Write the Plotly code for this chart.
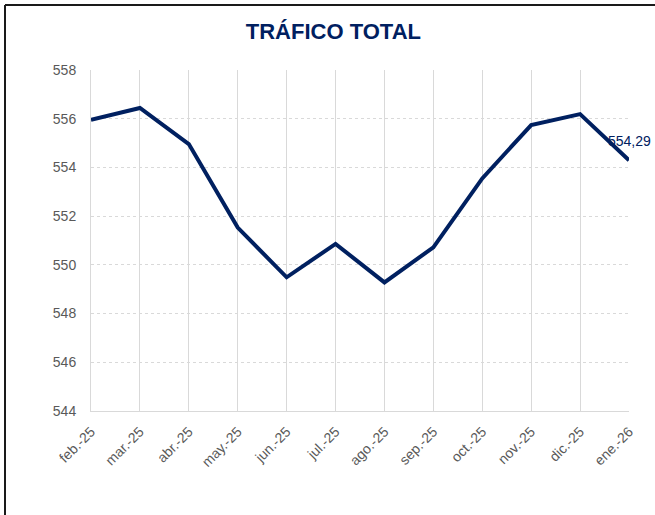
import plotly.graph_objects as go

# Monthly total traffic series
months = ["feb.-25", "mar.-25", "abr.-25", "may.-25", "jun.-25", "jul.-25",
          "ago.-25", "sep.-25", "oct.-25", "nov.-25", "dic.-25", "ene.-26"]
traffic = [555.95, 556.44, 554.96, 551.53, 549.49, 550.86,
           549.28, 550.72, 553.55, 555.74, 556.19, 554.29]
y_ticks = [544, 546, 548, 550, 552, 554, 556, 558]

NAVY = "#002060"
GRID = "#d9d9d9"
TICK_FONT = dict(family="Liberation Sans, Arial, sans-serif", size=14, color="#595959")

W, H = 655, 515
M_L, M_R, M_T, M_B = 91, 26, 70, 104
plot_w = W - M_L - M_R
plot_h = H - M_T - M_B

fig = go.Figure()
fig.add_trace(go.Scatter(
    x=months, y=traffic, mode="lines",
    line=dict(color=NAVY, width=4),
    hoverinfo="x+y",
))

# value label on the latest month
last_val = traffic[-1]
fig.add_annotation(
    x=months[-1], y=last_val,
    text=f"{last_val:.2f}".replace(".", ","),
    showarrow=False, yshift=19, xshift=0,
    font=dict(family="Liberation Sans, Arial, sans-serif", size=14, color=NAVY),
)

# outer frame lines (top and left edges of the chart area)
px_x = lambda p: (p - M_L) / plot_w
px_y = lambda p: 1 - (p - M_T) / plot_h
fig.add_shape(type="line", xref="paper", yref="paper",
              x0=px_x(5), x1=px_x(W + 5), y0=px_y(5), y1=px_y(5),
              line=dict(color="#1a1a1a", width=2))
fig.add_shape(type="line", xref="paper", yref="paper",
              x0=px_x(5), x1=px_x(5), y0=px_y(5), y1=px_y(H + 5),
              line=dict(color="#1a1a1a", width=2))

fig.update_layout(
    width=W, height=H,
    margin=dict(l=M_L, r=M_R, t=M_T, b=M_B),
    paper_bgcolor="white", plot_bgcolor="white",
    showlegend=False,
    title=dict(
        text="<b>TRÁFICO TOTAL</b>",
        x=0.509, xanchor="center", y=1 - 31 / H, yanchor="middle",
        font=dict(family="Liberation Sans, Arial, sans-serif", size=22, color=NAVY),
    ),
    xaxis=dict(
        type="category", categoryorder="array", categoryarray=months,
        range=[0, len(months) - 1],
        showgrid=True, gridcolor=GRID, gridwidth=1,
        showline=True, linecolor=GRID, linewidth=1,
        ticks="", tickangle=-45, tickfont=TICK_FONT, ticklabelstandoff=6,
        zeroline=False, fixedrange=True,
    ),
    yaxis=dict(
        range=[544, 558], tickvals=y_ticks,
        showgrid=True, gridcolor=GRID, gridwidth=1, griddash="3px,3px",
        showline=True, linecolor=GRID, linewidth=1,
        ticks="", tickfont=TICK_FONT, ticklabelstandoff=11,
        zeroline=False, fixedrange=True,
    ),
)

fig.write_html("out.html")
